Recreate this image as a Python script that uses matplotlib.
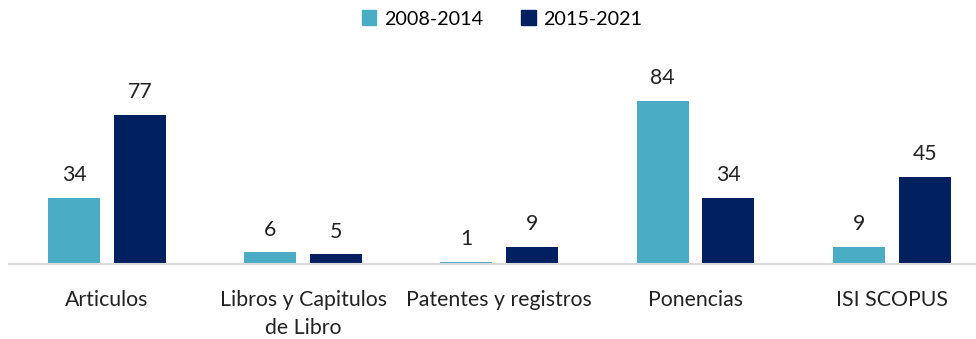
import numpy as np
import matplotlib.pyplot as plt
from matplotlib.patches import Patch

categorias = ["Articulos", "Libros y Capitulos\nde Libro", "Patentes y registros", "Ponencias", "ISI SCOPUS"]
periodo_1 = [34, 6, 1, 84, 9]
periodo_2 = [77, 5, 9, 34, 45]
series = ["2008-2014", "2015-2021"]
colores = ["#4BACC6", "#002060"]

plt.rcParams['font.family'] = ['Lato', 'DejaVu Sans']

fig = plt.figure(figsize=(9.76, 3.39), dpi=100)
ax = fig.add_axes([9/976, 1 - 264/339, 967/976, 194/339])

x = np.arange(len(categorias))
w = 0.265
off = 0.168
b1 = ax.bar(x - off, periodo_1, w, color=colores[0])
b2 = ax.bar(x + off, periodo_2, w, color=colores[1])

# etiquetas de valor sobre cada barra
for bars, vals in [(b1, periodo_1), (b2, periodo_2)]:
    for b, v in zip(bars, vals):
        ax.text(b.get_x() + b.get_width() / 2, v + 6.5, str(v), ha='center', va='bottom',
                fontsize=15.3, color='#222222')

ax.set_xlim(-0.5, 4.43)
ax.set_ylim(0, 100)
ax.set_yticks([])
ax.set_xticks(x)
ax.set_xticklabels(categorias, fontsize=15.3, color='#222222', linespacing=1.45)
ax.tick_params(axis='x', length=0, pad=19)
for s in ['top', 'right', 'left']:
    ax.spines[s].set_visible(False)
ax.spines['bottom'].set_color('#d9d9d9')
ax.spines['bottom'].set_linewidth(1.5)

handles = [Patch(color=c, label=s) for c, s in zip(colores, series)]
fig.legend(handles=handles, loc='center', bbox_to_anchor=(502/976, 1 - 19/339), ncol=2,
           frameon=False, fontsize=14.2, handlelength=0.75, handleheight=0.75,
           handletextpad=0.4, columnspacing=1.9)

fig.savefig("out.png", dpi=100)
